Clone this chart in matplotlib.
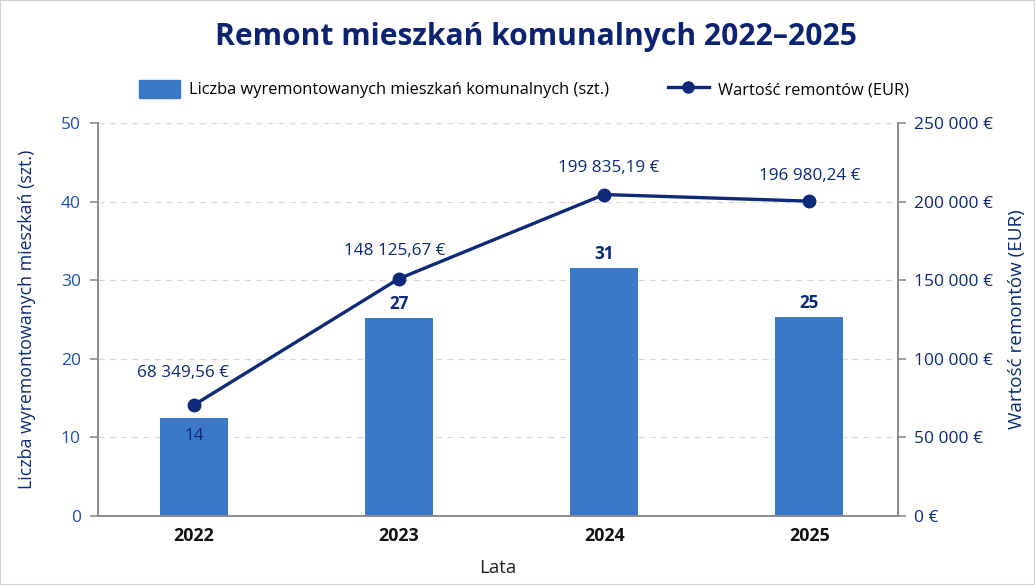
import matplotlib
matplotlib.use("Agg")
import matplotlib.pyplot as plt
from matplotlib.patches import Rectangle
from matplotlib.lines import Line2D

plt.rcParams['font.family'] = ['Open Sans', 'DejaVu Sans']

years = ["2022", "2023", "2024", "2025"]
bar_heights = [12.5, 25.2, 31.6, 25.3]
bar_labels = ["14", "27", "31", "25"]
costs = [70600, 151000, 204500, 200300]
cost_labels = ["68 349,56 €", "148 125,67 €", "199 835,19 €", "196 980,24 €"]
left_ticks = [0, 10, 20, 30, 40, 50]
right_ticks = [0, 50000, 100000, 150000, 200000, 250000]
right_tick_labels = ["0 €", "50 000 €", "100 000 €", "150 000 €", "200 000 €", "250 000 €"]

BAR = "#3C78C8"
NAVY = "#0D2A78"
TICKBLUE = "#1F4FB0"
GREY = "#8C8C8C"

fig = plt.figure(figsize=(10.35, 5.85), dpi=100)
fig.patches.append(Rectangle((0, 0), 1, 1, transform=fig.transFigure,
                             fill=False, edgecolor="#D0D0D0", linewidth=1.5))
ax = fig.add_axes([97.5/1035, 1-516/585, 800/1035, 393/585])
ax2 = ax.twinx()

x = list(range(len(years)))
ax.bar(x, bar_heights, width=0.33, color=BAR, zorder=2)
ax.set_xlim(-0.47, 3.43)
ax.set_ylim(0, 50)
ax2.set_ylim(0, 250000)

ax.set_yticks(left_ticks)
ax.set_yticklabels([str(t) for t in left_ticks])
ax2.set_yticks(right_ticks)
ax2.set_yticklabels(right_tick_labels)
ax.set_xticks(x)
ax.set_xticklabels(years, fontweight="bold", fontsize=12.8, color="#111111")
ax.tick_params(axis='x', length=0, pad=8)
ax.tick_params(axis='y', colors=GREY, labelcolor=TICKBLUE, labelsize=12.5, length=6, width=1.2, pad=6)
ax2.tick_params(axis='y', colors=GREY, labelcolor=NAVY, labelsize=12.5, length=6, width=1.2, pad=6)

ax.grid(axis='y', color="#D8D8D8", linestyle=(0, (5, 4)), linewidth=0.9, zorder=0)
ax.set_axisbelow(True)
for a in (ax, ax2):
    a.spines['top'].set_visible(False)
    for s in ('left', 'right', 'bottom'):
        a.spines[s].set_color(GREY)
        a.spines[s].set_linewidth(1.3)

ax2.plot(x, costs, color=NAVY, linewidth=2.4, marker='o', markersize=9, zorder=3)

# bar labels
for i, (h, lab) in enumerate(zip(bar_heights, bar_labels)):
    if i == 0:
        ax.annotate(lab, (i, h), xytext=(0, -18), textcoords='offset pixels',
                    ha='center', va='center', fontsize=12.3, color=NAVY)
    else:
        ax.annotate(lab, (i, h), xytext=(0, 14), textcoords='offset pixels',
                    ha='center', va='center', fontsize=12.3, fontweight='bold', color=NAVY)

offsets = [(-11, 32), (-4, 28), (5, 27), (0, 25)]
for i, (c, lab) in enumerate(zip(costs, cost_labels)):
    ax2.annotate(lab, (i, c), xytext=offsets[i], textcoords='offset pixels',
                 ha='center', va='center', fontsize=12.3, color=NAVY)

ax.set_ylabel("Liczba wyremontowanych mieszkań (szt.)", fontsize=12.8, color=NAVY, labelpad=18)
ax2.set_ylabel("Wartość remontów (EUR)", fontsize=13.6, color=NAVY, labelpad=11)
ax.set_xlabel("Lata", fontsize=13.5, color="#222222", labelpad=10)

fig.text(536/1035, 1-37/585, "Remont mieszkań komunalnych 2022–2025", ha='center', va='center',
         fontsize=21.6, fontweight='bold', color="#0B2370")

handles = [Rectangle((0, 0), 1, 1, color=BAR),
           Line2D([0], [0], color=NAVY, linewidth=2.4, marker='o', markersize=8)]
fig.legend(handles, ["Liczba wyremontowanych mieszkań komunalnych (szt.)", "Wartość remontów (EUR)"],
           loc='center', bbox_to_anchor=(524/1035, 1-89/585), ncol=2, frameon=False,
           fontsize=11.8, handlelength=2.5, handleheight=1.3, columnspacing=3.6,
           handletextpad=0.55)

fig.savefig("out.png", dpi=100)
